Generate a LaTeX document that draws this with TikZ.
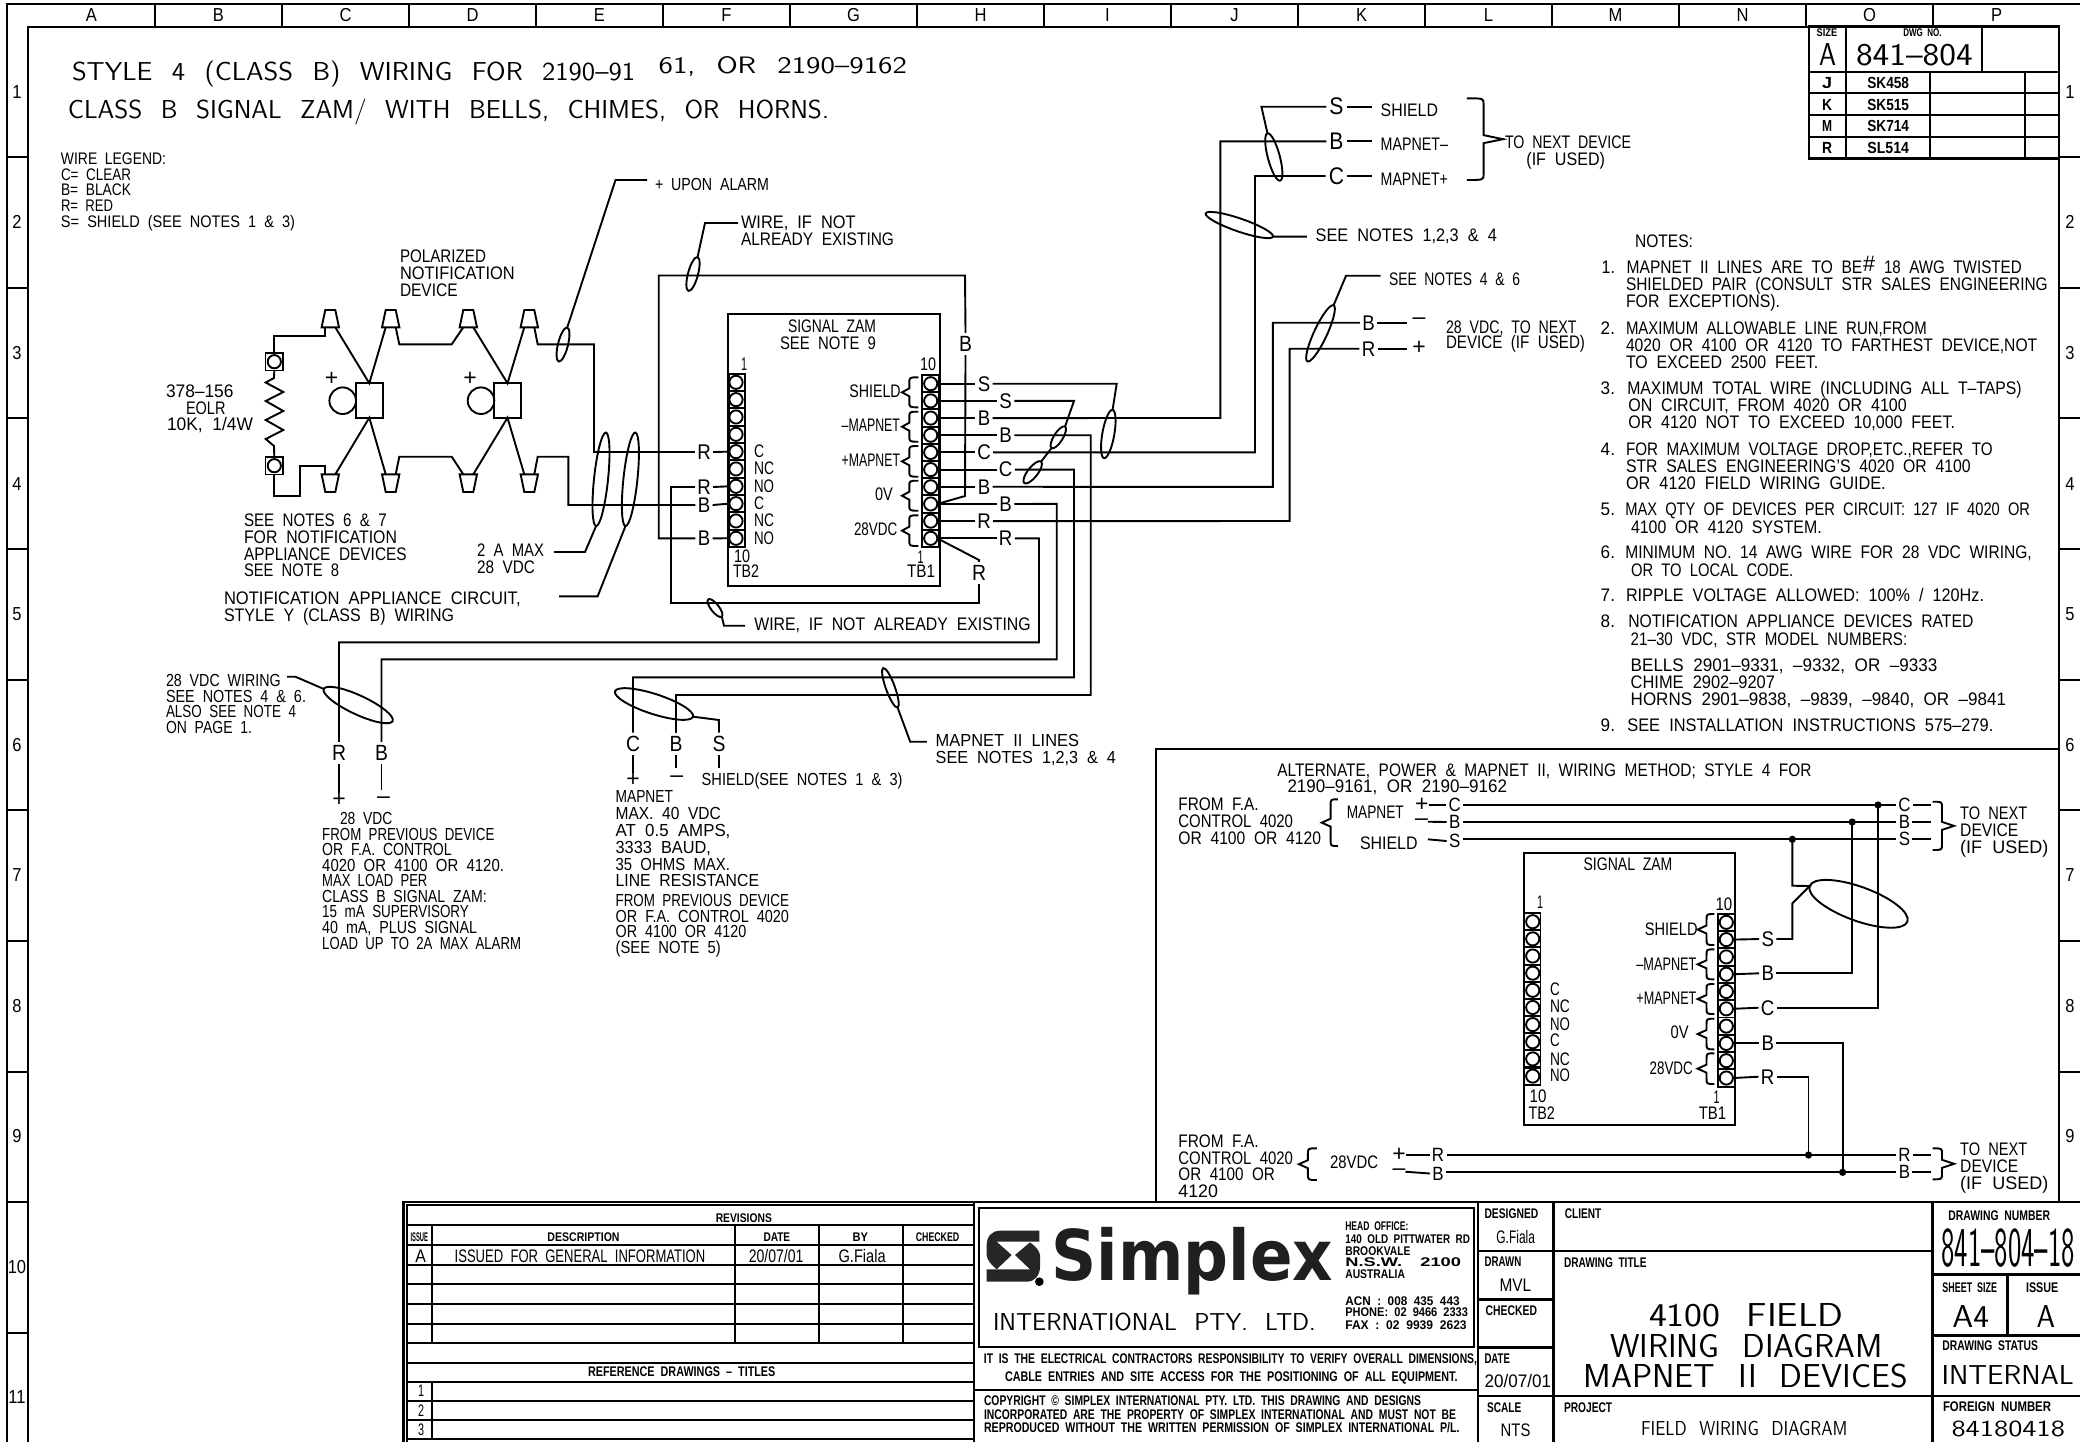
\documentclass[tikz,border=0pt]{standalone}
\usepackage{fontspec}
\usepackage{graphicx}
\usetikzlibrary{shapes.geometric}
\setmainfont[WordSpace=2]{Liberation Sans}
\setsansfont[WordSpace=2.2]{Latin Modern Sans}
\newcommand{\lightf}{\sffamily}
\newfontfamily\logofam{DejaVu Sans}
\newcounter{tc}
% T: x, baseline y, cap height, right x, text  (pixels)
\newcommand{\T}[5]{\stepcounter{tc}\pgfmathsetmacro{\tfs}{#3*0.5/0.716}\pgfmathsetmacro{\twd}{(#4-#1)*0.5}%
 \node[lab,anchor=base west] (t\arabic{tc}) at (#1,#2) {\fontsize{\tfs}{\tfs}\selectfont\resizebox{\twd pt}{\height}{#5}};}
\newcommand{\TB}[5]{\stepcounter{tc}\pgfmathsetmacro{\tfs}{#3*0.5/0.716}\pgfmathsetmacro{\twd}{(#4-#1)*0.5}%
 \node[lab,anchor=base west] (t\arabic{tc}) at (#1,#2) {\fontsize{\tfs}{\tfs}\bfseries\selectfont\resizebox{\twd pt}{\height}{#5}};}
\newcommand{\TL}[5]{\stepcounter{tc}\pgfmathsetmacro{\tfs}{#3*0.5/0.694}\pgfmathsetmacro{\twd}{(#4-#1)*0.5}%
 \node[lab,anchor=base west] (t\arabic{tc}) at (#1,#2) {\fontsize{\tfs}{\tfs}\lightf\selectfont\resizebox{\twd pt}{\height}{#5}};}
% E: name, cx, cy, half length, half width, angle
\newcommand{\E}[6]{\node[ell,minimum width=#4 pt,minimum height=#5 pt,rotate=#6] (#1) at (#2,#3) {};}
% BR: end x, spine x, tip x, top y, bottom y
\newcommand{\BR}[5]{\pgfmathsetmacro{\bm}{(#4+#5)/2}\pgfmathsetmacro{\bt}{#4+6}\pgfmathsetmacro{\bb}{#5-6}\pgfmathsetmacro{\bu}{\bm-4}\pgfmathsetmacro{\bd}{\bm+4}%
 \draw (#1,#4) .. controls (#2,#4) and (#2,#4) .. (#2,\bt) -- (#2,\bu) -- (#3,\bm) -- (#2,\bd) -- (#2,\bb) .. controls (#2,#5) and (#2,#5) .. (#1,#5);}
% Strip: prefix, rect centre x, circle x, first y, step
\newcommand{\Strip}[5]{\foreach \i in {1,...,10}{\pgfmathsetmacro{\yy}{#4+#5*(\i-1)}%
 \node[cell] (#1c\i) at (#2,\yy) {};\node[term] (#1\i) at (#3,\yy) {};}}
\newcommand{\Wch}[1]{\scalebox{.88}[1]{#1}}
\tikzset{
 lab/.style={inner sep=0pt,outer sep=0pt},
 ell/.style={draw,ellipse,inner sep=0pt,outer sep=0pt},
 cell/.style={draw,rectangle,minimum width=8.4pt,minimum height=8.65pt,inner sep=0pt,outer sep=0pt},
 term/.style={draw,circle,minimum size=6.6pt,inner sep=0pt,outer sep=0pt},
 wl/.style={inner ysep=0pt,inner xsep=1.2pt,outer sep=0pt,font=\fontsize{10.6}{10.6}\selectfont},
 wlv/.style={inner ysep=1.8pt,inner xsep=1.2pt,outer sep=0pt,font=\fontsize{11}{11}\selectfont},
 wls/.style={inner ysep=0pt,inner xsep=1.2pt,outer sep=0pt,font=\fontsize{9.6}{9.6}\selectfont},
 wlb/.style={inner ysep=0pt,inner xsep=1.6pt,outer sep=0pt,font=\fontsize{12}{12}\selectfont},
 pm/.style={inner sep=0pt,outer sep=0pt,font=\fontsize{11.5}{11.5}\selectfont},
 dotn/.style={draw,fill=black,circle,minimum size=2.6pt,inner sep=0pt,outer sep=0pt},
 boxn/.style={draw,rectangle,inner sep=0pt,outer sep=0pt},
 frameline/.style={line width=1.3pt},
 rev/.style={line width=.95pt},
 hd/.style={inner sep=0pt,outer sep=0pt,font=\fontsize{9.4}{9.4}\selectfont}
}
\begin{document}
\begin{tikzpicture}[x=0.5pt,y=-0.5pt,line width=.95pt]
\useasboundingbox (0,0) rectangle (2080,1442);
\fill[white] (0,0) rectangle (2080,1442);
% ---------- sheet frame
\draw[frameline] (2080,4) -- (7,4) -- (7,1442);
\draw[frameline] (28,1442) -- (28,27) -- (2059,27) -- (2059,1202);
\foreach \x in {155,282,409,536,663,790,917,1044,1171,1298,1425,1552,1679,1806,1933} \draw (\x,4) -- (\x,27);
\foreach \y in {157,288,418,549,680,810,941,1072,1202,1333} \draw (7,\y) -- (28,\y);
\foreach \y in {157,288,418,549,680,810,941,1072} \draw (2059,\y) -- (2080,\y);
\foreach \l/\x in {A/91.5,B/218.5,C/345.5,D/472.5,E/599.5,F/726.5,G/853.5,H/980.5,I/1107.5,J/1234.5,K/1361.5,L/1488.5,M/1615.5,N/1742.5,O/1869.5,P/1996.5}
 \node[hd] (col\l) at (\x,15.5) {\Wch{\l}};
\foreach \n/\y in {1/92,2/222,3/353,4/484,5/614,6/745,7/875,8/1006,9/1136,10/1267,11/1397}
 \node[hd] (rowl\n) at (17,\y) {\Wch{\n}};
\foreach \n/\y in {1/92,2/222,3/353,4/484,5/614,6/745,7/875,8/1006,9/1136}
 \node[hd] (rowr\n) at (2070,\y) {\Wch{\n}};
% ---------- headings
\TL{72}{80}{18}{635}{STYLE 4 (CLASS B) WIRING FOR 2190–91}
\TL{658.6}{73.5}{16.5}{907}{61, OR 2190–9162}
\TL{68}{118}{18}{829}{CLASS B SIGNAL ZAM/ WITH BELLS, CHIMES, OR HORNS.}
\T{61}{164}{12}{166}{WIRE LEGEND:}
\T{61}{180}{12}{131}{C= CLEAR}
\T{61}{195.6}{12}{131}{B= BLACK}
\T{61}{211}{12}{113}{R= RED}
\T{61}{227}{12}{295}{S= SHIELD (SEE NOTES 1 \& 3)}
\T{400}{262.6}{13}{486}{POLARIZED}
\T{400}{279}{13}{514.7}{NOTIFICATION}
\T{400}{296.6}{13}{457.6}{DEVICE}
\T{166}{397}{13}{233.5}{378–156}
\T{186}{414}{13}{225.5}{EOLR}
\T{167}{430.7}{13}{253}{10K, 1/4W}
\T{244}{526.7}{13}{386.7}{SEE NOTES 6 \& 7}
\T{244}{543.3}{13}{397}{FOR NOTIFICATION}
\T{244}{560}{13}{406.7}{APPLIANCE DEVICES}
\T{244}{576.7}{13}{339}{SEE NOTE 8}
\T{477}{556.7}{13}{544}{2 A MAX}
\T{477}{573.7}{13}{535}{28 VDC}
\T{224}{604.7}{13}{520.6}{NOTIFICATION APPLIANCE CIRCUIT,}
\T{224}{621}{13}{454}{STYLE Y (CLASS B) WIRING}
\T{655}{190}{12.5}{769}{+ UPON ALARM}
\T{741}{228.6}{13}{855.6}{WIRE, IF NOT}
\T{741}{245.6}{13}{894}{ALREADY EXISTING}
% ---------- notification devices
\foreach \n/\c in {1/330.3,2/390.7,3/468.3,4/529.3}{
 \draw (\c-5,310) -- (\c+5,310) -- (\c+8.7,327.3) -- (\c-8.7,327.3) -- cycle;
 \coordinate (u\n l) at (\c-5,327.3); \coordinate (u\n r) at (\c+5,327.3);
 \draw (\c-8.7,474.3) -- (\c+8.7,474.3) -- (\c+5,492) -- (\c-5,492) -- cycle;
 \coordinate (v\n l) at (\c-5,474.3); \coordinate (v\n r) at (\c+5,474.3);
}
\node[boxn,minimum width=13.3pt,minimum height=17.2pt] (sq1) at (369.3,400.5) {};
\node[boxn,minimum width=13.2pt,minimum height=17.2pt] (sq2) at (507.5,400.5) {};
\node[draw,circle,minimum size=13.3pt,inner sep=0pt,outer sep=0pt] (cr1) at (342.7,400.7) {};
\node[draw,circle,minimum size=13.3pt,inner sep=0pt,outer sep=0pt] (cr2) at (481,400.7) {};
\node[pm] (plus1) at (331.7,378.7) {+};
\node[pm] (plus2) at (470,378.7) {+};
\node[boxn,minimum size=8.8pt] (eolt) at (274.3,361.7) {};
\node[term] (eoltc) at (274.3,361.7) {};
\node[boxn,minimum size=8.8pt] (eolb) at (274.3,465.7) {};
\node[term] (eolbc) at (274.3,465.7) {};
\draw (eolt.south) -- (274,378) -- (265.7,382.5) -- (283.3,392) -- (265.7,401) -- (283.3,411) -- (265.7,420) -- (283.3,430) -- (265.7,439) -- (274,446) -- (eolb.north);
\draw (eolt.north) -- (274.3,336) -- (u1l |- 0,336) -- (u1l);
\draw (eolb.south) -- (274.3,496) -- (300,496) -- (300,465.7) -- (v1l |- 0,465.7) -- (v1l);
\draw (u1r) -- (sq1.north) -- (u2l);
\draw (u2r) -- (399.3,344.3) -- (451.7,344.3) -- (u3l);
\draw (u3r) -- (sq2.north) -- (u4l);
\draw (v1r) -- (sq1.south) -- (v2l);
\draw (v2r) -- (399.3,456.7) -- (451.7,456.7) -- (v3l);
\draw (v3r) -- (sq2.south) -- (v4l);
% ---------- signal zam
\node[boxn,minimum width=106pt,minimum height=136pt] (zam) at (833.7,450) {};
\T{788}{332}{13}{876}{SIGNAL ZAM}
\T{780}{349}{13}{876}{SEE NOTE 9}
\Strip{a}{737}{736}{382.3}{17.33}
\Strip{b}{930.7}{930.7}{383.7}{17.18}
\T{741}{370.7}{13}{747}{1}
\T{920}{370.7}{13}{936}{10}
\T{734}{562.7}{13}{750}{10}
\T{733}{577}{13}{759}{TB2}
\T{917.7}{563}{13}{923.7}{1}
\T{907}{577}{13}{935}{TB1}
\foreach \s/\r/\y in {C/764/457,NC/774/474,NO/774/492,C/764/509,NC/774/526.7,NO/774/544}{\T{754}{\y}{13}{\r}{\s}}
\BR{918.3}{909.3}{902}{377.3}{407.3}
\BR{918.3}{909.3}{902}{411.7}{441.7}
\BR{918.3}{909.3}{902}{446}{476.7}
\BR{918.3}{909.3}{902}{480.7}{510.7}
\BR{918.3}{909.3}{902}{515.3}{546}
\T{849.3}{397}{13}{900.7}{SHIELD}
\T{841.7}{431.7}{13}{900}{–MAPNET}
\T{841.7}{466}{13}{900}{+MAPNET}
\T{875}{500.7}{13}{892.7}{0V}
\T{854}{535.7}{13}{897.3}{28VDC}
% wire labels at TB2
\node[wl] (rla) at (704,452) {\Wch{R}};
\node[wl] (rlb) at (704,487) {\Wch{R}};
\node[wl] (bla) at (704,505) {\Wch{B}};
\node[wl] (blb) at (704,538.3) {\Wch{B}};
\draw (rla.east) -- (a5.west);
\draw (rlb.east) -- (a7.west);
\draw (bla.east) -- (a8.west);
\draw (blb.east) -- (a10.west);
\draw (u4r) -- (537.7,344.3) -- (594,344.3) -- (594,452) -- (rla.west);
\draw (v4r) -- (537.7,456.7) -- (568.3,456.7) -- (568.3,505) -- (bla.west);
% wire labels at TB1
\foreach \i/\ch/\xc in {1/S/984,2/S/1005.7,3/B/984,4/B/1005.7,5/C/984,6/C/1005.7,7/B/984,8/B/1005.7,9/R/984,10/R/1005.7}{
 \node[wl] (l\i) at (\xc,0 |- b\i) {\Wch{\ch}};
 \draw (b\i.east) -- (l\i.west);
}
\node[wlv] (wb) at (965.5,344) {\Wch{B}};
\node[wlv] (wr) at (979,573) {\Wch{R}};
\draw (b8.east) -- (965,496) -- (wb.south);
\draw (wb.north) -- (965,275.5) -- (658.7,275.5) -- (658.7,538.3) -- (blb.west);
\draw (b10.east) -- (979,560) -- (wr.north);
\draw (wr.south) -- (979,603.3) -- (671.3,603.3) -- (671.3,487) -- (rlb.west);
% ellipses and leaders, left part
\E{e1}{563}{344.5}{17.5}{5}{76}
\E{e2}{693}{274}{17.5}{5}{75}
\E{e3}{601}{479.3}{47}{7}{84}
\E{e4}{630.4}{479.3}{47}{7}{84}
\E{e14}{715}{608}{11}{4}{128}
\coordinate (ldA) at (647,180);
\coordinate (ldB) at (738,223);
\draw (ldA) -- (615.5,180) -- (e1.east);
\draw (ldB) -- (705,223) -- (e2.east);
\coordinate (ldC) at (554,552);
\coordinate (ldD) at (559,596.4);
\draw (ldC) -- (585,552) -- (e3.west);
\draw (ldD) -- (597.6,596.4) -- (e4.west);
\coordinate (ldE) at (745,625.7);
\draw (e14.west) -- (724,625.7) -- (ldE);
\T{754.3}{630}{13}{1030.7}{WIRE, IF NOT ALREADY EXISTING}
% ---------- upper right wiring
\E{e5}{1108.3}{434}{24.5}{6}{80}
\E{e6}{1058.3}{437.3}{12.7}{4.5}{58}
\E{e7}{1032.7}{472.3}{13.7}{5}{52}
\E{e8}{1273.8}{157}{24.5}{6}{105}
\E{e9}{1239.3}{225}{35.6}{6.5}{-19}
\E{e10}{1320.5}{333.3}{31}{6.5}{65}
\draw (l1.east) -- (1116.7,383.7) -- (e5.east);
\draw (l2.east) -- (1074,400.9) -- (e6.east);
\draw (e6.west) -- (e7.east);
\node[wlb] (ts) at (1336.5,106.7) {\Wch{S}};
\node[wlb] (tb) at (1336.5,141.3) {\Wch{B}};
\node[wlb] (tc) at (1336.5,176) {\Wch{C}};
\coordinate (tse) at (1371.8,106.7);
\coordinate (tbe) at (1371.8,141.3);
\coordinate (tce) at (1371.8,176);
\draw (ts.east) -- (tse);
\draw (tb.east) -- (tbe);
\draw (tc.east) -- (tce);
\draw (ts.west) -- (1261.4,106.7) -- (e8.east);
\draw (l3.east) -- (1220.4,418) -- (1220.4,141.3) -- (tb.west);
\draw (l5.east) -- (1255,452.4) -- (1255,176) -- (tc.west);
\T{1380.7}{116}{13}{1438}{SHIELD}
\T{1380.7}{150.7}{13}{1447.9}{MAPNET–}
\T{1380.7}{185}{13}{1447.9}{MAPNET+}
\BR{1466.8}{1483.6}{1503}{98.3}{180}
\T{1505}{148}{13}{1631}{TO NEXT DEVICE}
\T{1526.4}{165}{13}{1605}{(IF USED)}
\coordinate (ldF) at (1306.8,236.6);
\draw (e9.east) -- (ldF);
\T{1315.7}{241.7}{13}{1496.8}{SEE NOTES 1,2,3 \& 4}
\coordinate (ldG) at (1380.7,275.7);
\draw (ldG) -- (1346,275.7) -- (e10.east);
\T{1389}{285.3}{13}{1520}{SEE NOTES 4 \& 6}
\node[wl] (pb) at (1368.5,322.7) {\Wch{B}};
\node[wl] (pr) at (1368.5,348.7) {\Wch{R}};
\node[pm] (pmin) at (1419,321) {–};
\node[pm] (pplu) at (1419,347.5) {+};
\draw (pb.east) -- (1406.8,322.7);
\draw (pr.east) -- (1406.8,348.7);
\draw (l7.east) -- (1272.9,486.8) -- (1272.9,322.7) -- (pb.west);
\draw (l9.east) -- (1289.6,521) -- (1289.6,348.7) -- (pr.west);
\T{1446}{333.3}{13}{1576.4}{28 VDC, TO NEXT}
\T{1446}{348}{13}{1585}{DEVICE (IF USED)}
% ---------- lower field wiring
\node[wlv] (nR) at (339,753) {\Wch{R}};
\node[wlv] (nB) at (381.5,753) {\Wch{B}};
\node[wlv] (mC) at (633,744) {\Wch{C}};
\node[wlv] (mB) at (676,744) {\Wch{B}};
\node[wlv] (mS) at (719,744) {\Wch{S}};
\draw (l10.east) -- (1039,538.3) -- (1039,642.3) -- (339,642.3) -- (nR.north);
\draw (l8.east) -- (1056.7,503.9) -- (1056.7,659.3) -- (381.5,659.3) -- (nB.north);
\draw (l6.east) -- (1074,469.6) -- (1074,677.3) -- (633,677.3) -- (mC.north);
\draw (l4.east) -- (1090.7,435.2) -- (1090.7,695) -- (676,695) -- (mB.north);
\E{e11}{358.2}{705}{38}{9.5}{-25}
\E{e12}{654}{704}{41}{10}{-18}
\E{e13}{890.4}{687.8}{21}{4.5}{110}
\coordinate (ldH) at (287,676.7);
\draw (ldH) -- (295.4,676.7) -- (e11.west);
\draw (e12.east) -- (718.9,720) -- (mS.north);
\coordinate (ldI) at (926.8,741.7);
\draw (e13.west) -- (910.2,741.7) -- (ldI);
\node[pm] (nplus) at (339,800) {+};
\node[pm] (nminus) at (383.4,800) {–};
\node[pm] (mplus) at (633,780) {+};
\node[pm] (mminus) at (676.8,779) {–};
\draw (nR.south) -- (nplus.north);
\draw (nB.south) -- (381.5,790);
\draw (mC.south) -- (mplus.north);
\draw (mB.south) -- (676,768.3);
\draw (mS.south) -- (719,768.3);
\T{166}{686}{12.5}{280.7}{28 VDC WIRING}
\T{166}{702}{12.5}{306}{SEE NOTES 4 \& 6.}
\T{166}{717.3}{12.5}{296}{ALSO SEE NOTE 4}
\T{166}{733.3}{12.5}{252}{ON PAGE 1.}
\T{340}{824}{12.5}{392.3}{28 VDC}
\T{322.2}{840}{12.5}{494.4}{FROM PREVIOUS DEVICE}
\T{322.2}{855.3}{12.5}{451.7}{OR F.A. CONTROL}
\T{322.2}{871}{12.5}{504}{4020 OR 4100 OR 4120.}
\T{322.2}{886.7}{12.5}{427.4}{MAX LOAD PER}
\T{322.2}{902.3}{12.5}{486.7}{CLASS B SIGNAL ZAM:}
\T{322.2}{917.7}{12.5}{468.9}{15 mA SUPERVISORY}
\T{322.2}{933.3}{12.5}{477}{40 mA, PLUS SIGNAL}
\T{322.2}{949}{12.5}{521}{LOAD UP TO 2A MAX ALARM}
\T{701.7}{785}{12.5}{902.5}{SHIELD(SEE NOTES 1 \& 3)}
\T{615.6}{802.7}{12.5}{673}{MAPNET}
\T{615.6}{819.3}{12.5}{720.8}{MAX. 40 VDC}
\T{615.6}{836}{12.5}{730.4}{AT 0.5 AMPS,}
\T{615.6}{853.3}{12.5}{711}{3333 BAUD,}
\T{615.6}{870}{12.5}{730}{35 OHMS MAX.}
\T{615.6}{886.7}{12.5}{759}{LINE RESISTANCE}
\T{615.6}{906.7}{12.5}{789}{FROM PREVIOUS DEVICE}
\T{615.6}{922.3}{12.5}{789}{OR F.A. CONTROL 4020}
\T{615.6}{937.7}{12.5}{746.3}{OR 4100 OR 4120}
\T{615.6}{953.3}{12.5}{720.8}{(SEE NOTE 5)}
\T{935.7}{746.7}{12.5}{1079}{MAPNET II LINES}
\T{935.7}{763.3}{12.5}{1116}{SEE NOTES 1,2,3 \& 4}
% ---------- notes
\T{1635}{247.3}{13}{1693}{NOTES:}
\T{1601.7}{273.3}{13}{1615}{1.}
\T{1626.7}{273.3}{13}{1862.3}{MAPNET II LINES ARE TO BE}
\T{1863}{271.7}{16}{1875}{\#}
\T{1884}{273.3}{13}{2021.7}{18 AWG TWISTED}
\T{1626}{290.7}{13}{2047.7}{SHIELDED PAIR (CONSULT STR SALES ENGINEERING}
\T{1626}{307.7}{13}{1780}{FOR EXCEPTIONS).}
\T{1600.7}{334}{13}{1615}{2.}
\T{1626}{334}{13}{1926.7}{MAXIMUM ALLOWABLE LINE RUN,FROM}
\T{1626}{351.3}{13}{2037.3}{4020 OR 4100 OR 4120 TO FARTHEST DEVICE,NOT}
\T{1626}{368.3}{13}{1818.3}{TO EXCEED 2500 FEET.}
\T{1600.7}{394.3}{13}{1615}{3.}
\T{1627.3}{394.3}{13}{2021.7}{MAXIMUM TOTAL WIRE (INCLUDING ALL T–TAPS)}
\T{1628.3}{411.7}{13}{1906.7}{ON CIRCUIT, FROM 4020 OR 4100}
\T{1628.3}{428.7}{13}{1955}{OR 4120 NOT TO EXCEED 10,000 FEET.}
\T{1600.7}{455}{13}{1615}{4.}
\T{1626}{455}{13}{1992.7}{FOR MAXIMUM VOLTAGE DROP,ETC.,REFER TO}
\T{1626}{472.3}{13}{1970.7}{STR SALES ENGINEERING'S 4020 OR 4100}
\T{1626}{489.3}{13}{1885.7}{OR 4120 FIELD WIRING GUIDE.}
\T{1600.7}{515}{13}{1615}{5.}
\T{1625.3}{515}{13}{2030}{MAX QTY OF DEVICES PER CIRCUIT: 127 IF 4020 OR}
\T{1631}{533.3}{13}{1821.7}{4100 OR 4120 SYSTEM.}
\T{1600.7}{558.3}{13}{1615}{6.}
\T{1625.3}{558.3}{13}{2031.7}{MINIMUM NO. 14 AWG WIRE FOR 28 VDC WIRING,}
\T{1631}{576.7}{13}{1793.3}{OR TO LOCAL CODE.}
\T{1600.7}{601.7}{13}{1615}{7.}
\T{1626}{601.7}{13}{1984}{RIPPLE VOLTAGE ALLOWED: 100\% / 120Hz.}
\T{1600.7}{627.3}{13}{1615}{8.}
\T{1628.3}{627.3}{13}{1973.3}{NOTIFICATION APPLIANCE DEVICES RATED}
\T{1630.7}{645.3}{13}{1907.3}{21–30 VDC, STR MODEL NUMBERS:}
\T{1630.7}{671}{13}{1937.3}{BELLS 2901–9331, –9332, OR –9333}
\T{1630.7}{688.3}{13}{1775}{CHIME 2902–9207}
\T{1630.7}{705}{13}{2006}{HORNS 2901–9838, –9839, –9840, OR –9841}
\T{1600.7}{731}{13}{1615}{9.}
\T{1627.3}{731}{13}{1993.3}{SEE INSTALLATION INSTRUCTIONS 575–279.}
% ---------- alternate panel
\draw[frameline] (1156,1202) -- (1156,749) -- (2059,749);
\T{1277.3}{776}{13}{1811.5}{ALTERNATE, POWER \& MAPNET II, WIRING METHOD; STYLE 4 FOR}
\T{1287.5}{792.3}{13}{1507}{2190–9161, OR 2190–9162}
\T{1178.4}{810.7}{13}{1258.7}{FROM F.A.}
\T{1178.4}{827.3}{13}{1293}{CONTROL 4020}
\T{1178.4}{844}{13}{1321}{OR 4100 OR 4120}
\BR{1337.8}{1330.6}{1321.7}{799.3}{846}
\T{1346.8}{818.7}{13}{1403.8}{MAPNET}
\T{1360}{849}{13}{1417.6}{SHIELD}
\node[pm] (apl) at (1421.8,805) {+};
\node[pm] (amn) at (1421.5,821.7) {–};
\coordinate (asb) at (1427.8,839.3);
\node[wls] (aC) at (1454.7,805) {\Wch{C}};
\node[wls] (aB) at (1454.7,822) {\Wch{B}};
\node[wls] (aS) at (1454.7,841) {\Wch{S}};
\draw (apl.east) -- (aC.west);
\draw (amn.east) -- (aB.west);
\draw (asb) -- (aS.west);
\node[wls] (xC) at (1904.4,805) {\Wch{C}};
\node[wls] (xB) at (1904.4,822) {\Wch{B}};
\node[wls] (xS) at (1904.4,839.3) {\Wch{S}};
\draw (aC.east) -- (xC.west);
\draw (aB.east) -- (xB.west);
\draw (aS.east |- xS) -- (xS.west);
\foreach \n in {C,B,S} {\coordinate (e\n x) at (1931.4,0 |- x\n); \draw (x\n.east) -- (e\n x);}
\BR{1932.6}{1942}{1954}{801.7}{850}
\T{1960.2}{819}{13}{2027.3}{TO NEXT}
\T{1960.2}{836}{13}{2018.3}{DEVICE}
\T{1960.2}{853.3}{13}{2048.3}{(IF USED)}
\node[dotn] (dC) at (1878,805) {};
\node[dotn] (dB) at (1852.2,822) {};
\node[dotn] (dS) at (1792.3,839.3) {};
\node[boxn,minimum width=105.8pt,minimum height=136.2pt] (zam2) at (1629.5,988.8) {};
\T{1583.6}{870.7}{13}{1672.4}{SIGNAL ZAM}
\Strip{c}{1532.1}{1532.7}{921.7}{17.15}
\Strip{d}{1726.7}{1726.3}{922.3}{17.3}
\T{1537}{908.3}{13}{1543}{1}
\T{1715.5}{910}{13}{1732.3}{10}
\foreach \s/\r/\y in {C/1559.7/995.7,NC/1569.9/1012.7,NO/1569.9/1030,C/1559.7/1046.7,NC/1569.9/1065,NO/1569.9/1081.7}{\T{1550}{\y}{13}{\r}{\s}}
\T{1529.7}{1102.7}{13}{1546.5}{10}
\T{1528.5}{1119.3}{13}{1554.9}{TB2}
\T{1713.7}{1103.3}{13}{1719.7}{1}
\T{1698.8}{1119.3}{13}{1726.3}{TB1}
\BR{1714.3}{1706.5}{1697.6}{914}{945}
\BR{1714.3}{1706.5}{1697.6}{949.3}{979.3}
\BR{1714.3}{1706.5}{1697.6}{984}{1014}
\BR{1714.3}{1706.5}{1697.6}{1018.7}{1049.3}
\BR{1714.3}{1706.5}{1697.6}{1053.3}{1084}
\T{1644.8}{935.7}{13}{1697.6}{SHIELD}
\T{1636.4}{970}{13}{1696.4}{–MAPNET}
\T{1636.4}{1004.3}{13}{1696.4}{+MAPNET}
\T{1670.6}{1038.3}{13}{1688.6}{0V}
\T{1649.6}{1074}{13}{1692.8}{28VDC}
\node[wl] (zS) at (1767.7,939) {\Wch{S}};
\node[wl] (zB) at (1767.7,973.3) {\Wch{B}};
\node[wl] (zC) at (1767.7,1007.7) {\Wch{C}};
\node[wl] (zG) at (1767.7,1042.7) {\Wch{B}};
\node[wl] (zR) at (1767.7,1076.7) {\Wch{R}};
\draw (d2.east) -- (zS.west);
\draw (d4.east) -- (zB.west);
\draw (d6.east) -- (zC.west);
\draw (d7.east |- zG) -- (zG.west);
\draw (d10.east) -- (zR.west);
\E{e15}{1858.5}{903.8}{52}{17}{-20}
\draw (dS) -- (1792.3,885.7) -- (e15.west) -- (1792.3,903.3) -- (1792.3,939) -- (zS.east);
\draw (zB.east) -- (1852.2,973.3) -- (dB);
\draw (zC.east) -- (1878,1007.7) -- (dC);
\T{1178.4}{1147.3}{13}{1258.7}{FROM F.A.}
\T{1178.4}{1164}{13}{1293}{CONTROL 4020}
\T{1178.4}{1180.7}{13}{1275}{OR 4100 OR}
\T{1178.4}{1197.3}{13}{1218}{4120}
\BR{1316.9}{1307.9}{1298.9}{1148.3}{1180}
\T{1330}{1168.3}{13}{1378}{28VDC}
\node[pm] (bpl) at (1399,1155) {+};
\node[pm] (bmn) at (1399,1171.7) {–};
\node[wls] (bR) at (1438,1155) {\Wch{R}};
\node[wls] (bB) at (1438,1173.5) {\Wch{B}};
\draw (bpl.east) -- (bR.west);
\draw (bmn.east) -- (bB.west);
\node[wls] (yR) at (1904.4,1155) {\Wch{R}};
\node[wls] (yB) at (1904.4,1172.3) {\Wch{B}};
\draw (bR.east) -- (yR.west);
\draw (bB.east |- yB) -- (yB.west);
\coordinate (eRy) at (1931.4,1155);
\coordinate (eBy) at (1931.4,1172.3);
\draw (yR.east) -- (eRy);
\draw (yB.east) -- (eBy);
\BR{1932.6}{1942}{1954}{1148.3}{1179.3}
\T{1960.2}{1155.7}{13}{2027.3}{TO NEXT}
\T{1960.2}{1172.3}{13}{2018.3}{DEVICE}
\T{1960.2}{1189}{13}{2048.3}{(IF USED)}
\node[dotn] (dR) at (1808.5,1155) {};
\node[dotn] (dG) at (1842.6,1172.3) {};
\draw (zG.east) -- (1842.6,1042.7) -- (dG);
\draw (zR.east) -- (1808.5,1076.7) -- (dR);
% ---------- top right table
\draw[frameline] (1809,26.7) rectangle (2059,158.3);
\draw[rev] (1845.7,26.7) -- (1845.7,158.3);
\draw[rev] (1981.7,26.7) -- (1981.7,71.7);
\foreach \y in {71.7,93.3,115,136.7} \draw[rev] (1809,\y) -- (2059,\y);
\draw[rev] (1930,71.7) -- (1930,158.3);
\draw[rev] (2025,71.7) -- (2025,158.3);
\TB{1816.7}{36.7}{8}{1837.3}{SIZE}
\TB{1903.3}{36}{8}{1941.7}{DWG NO.}
\TL{1819}{65}{22}{1836}{A}
\TL{1856}{65}{22}{1972.7}{841–804}
\foreach \s/\k/\y in {J/SK458/88.3,K/SK515/110,M/SK714/131.7,R/SL514/153.3}{
 \TB{1822}{\y}{11.5}{1832}{\s}
 \TB{1867.3}{\y}{11.5}{1909}{\k}
}
% ---------- revisions block
\draw[frameline] (2080,1202) -- (403.5,1202) -- (403.5,1442);
\draw[rev] (974,1205) -- (407,1205) -- (407,1442);
\draw[frameline] (974,1202) -- (974,1442);
\foreach \y in {1225,1245,1265,1284.3,1304.3,1324,1343.3,1362.7,1381.7,1401,1420,1439.3} \draw[rev] (407,\y) -- (974,\y);
\foreach \x in {431.6,735.4,819,903} \draw[rev] (\x,1225) -- (\x,1343.3);
\draw[rev] (431.6,1381.7) -- (431.6,1439.3);
\TB{715.8}{1222.7}{9}{771.9}{REVISIONS}
\TB{410.5}{1241.7}{9}{428}{ISSUE}
\TB{547.4}{1241.7}{9}{619.6}{DESCRIPTION}
\TB{763.5}{1241.7}{9}{790.2}{DATE}
\TB{852.6}{1241.7}{9}{868}{BY}
\TB{915.8}{1241.7}{9}{959.3}{CHECKED}
\T{415.4}{1262.7}{13}{426}{A}
\T{454.7}{1262.7}{13}{705.3}{ISSUED FOR GENERAL INFORMATION}
\T{748.8}{1262.7}{13}{803.5}{20/07/01}
\T{838.6}{1262.7}{13}{885.6}{G.Fiala}
\TB{588}{1376.7}{10}{775.4}{REFERENCE DRAWINGS – TITLES}
\T{418}{1396.7}{12}{424}{1}
\T{418}{1416}{12}{424}{2}
\T{418}{1435.7}{12}{424}{3}
% ---------- logo block
\node[boxn,line width=1.1pt,minimum width=247.4pt,minimum height=69.2pt] (logobox) at (1226.3,1277.5) {};
\begin{scope}[shift={(980,1210)},x=0.16667pt,y=-0.16667pt]
 \fill[black!85] (178,62) -- (60,62) .. controls (35,62) and (20,80) .. (20,105) -- (20,135) .. controls (20,150) and (35,165) .. (50,178) -- (95,135) -- (50,95) -- (178,95) -- cycle;
 \fill[black!85] (20,215) -- (140,215) .. controls (165,215) and (180,195) .. (180,170) -- (180,135) .. controls (178,120) and (165,108) .. (150,97) -- (105,135) -- (150,178) -- (20,178) -- cycle;
 \fill[black] (178,215) circle (13);
\end{scope}
\node[lab,anchor=base west,text=black!88] (logoname) at (1051.7,1280.7) {\fontsize{35}{35}\logofam\bfseries\resizebox{140.8pt}{\height}{Simplex}};
\TL{993}{1330}{17}{1315.8}{INTERNATIONAL PTY. LTD.}
\TB{1345.3}{1230.7}{9}{1408.4}{HEAD OFFICE:}
\TB{1345.3}{1243.3}{9}{1470}{140 OLD PITTWATER RD}
\TB{1345.3}{1255.7}{9}{1410.5}{BROOKVALE}
\TB{1345.3}{1266.7}{9}{1461}{N.S.W.\quad 2100}
\TB{1345.3}{1278.3}{9}{1405}{AUSTRALIA}
\TB{1345.3}{1305}{9}{1459.6}{ACN : 008 435 443}
\TB{1345.3}{1316.7}{9}{1468}{PHONE: 02 9466 2333}
\TB{1345.3}{1329.3}{9}{1466.7}{FAX : 02 9939 2623}
\TB{983.9}{1363.3}{10}{1477}{IT IS THE ELECTRICAL CONTRACTORS RESPONSIBILITY TO VERIFY OVERALL DIMENSIONS,}
\TB{1005}{1381.7}{10}{1457.5}{CABLE ENTRIES AND SITE ACCESS FOR THE POSITIONING OF ALL EQUIPMENT.}
\draw[rev] (974,1390) -- (1478,1390);
\TB{984}{1405.7}{10}{1421}{COPYRIGHT © SIMPLEX INTERNATIONAL PTY. LTD. THIS DRAWING AND DESIGNS}
\TB{984}{1419}{10}{1456}{INCORPORATED ARE THE PROPERTY OF SIMPLEX INTERNATIONAL AND MUST NOT BE}
\TB{984}{1432.3}{10}{1459.6}{REPRODUCED WITHOUT THE WRITTEN PERMISSION OF SIMPLEX INTERNATIONAL P/L.}
% ---------- title block
\draw[frameline] (1478,1202) -- (1478,1442);
\draw[frameline] (1553.7,1202) -- (1553.7,1442);
\draw[frameline] (1932.5,1202) -- (1932.5,1442);
\draw[frameline] (1553.7,1251) -- (1932.5,1251);
\draw[frameline] (1478,1251) -- (1553.7,1251);
\draw[frameline] (1478,1299.3) -- (1553.7,1299.3);
\draw[frameline] (1478,1347.7) -- (1553.7,1347.7);
\draw[frameline] (1478,1396) -- (2080,1396);
\draw[frameline] (1932.5,1274.3) -- (2080,1274.3);
\draw[frameline] (1932.5,1335.7) -- (2080,1335.7);
\draw[frameline] (2007.7,1274.3) -- (2007.7,1335.7);
\TB{1484.5}{1218.3}{10}{1538.3}{DESIGNED}
\T{1496.4}{1243.3}{13}{1535}{G.Fiala}
\TB{1484.5}{1266.7}{10}{1521.3}{DRAWN}
\T{1499.5}{1291.7}{13}{1531.2}{MVL}
\TB{1485.7}{1315.7}{10}{1537}{CHECKED}
\TB{1484.5}{1363.3}{10}{1510}{DATE}
\T{1484.5}{1387.3}{13}{1551}{20/07/01}
\TB{1487}{1412.3}{10}{1521.3}{SCALE}
\T{1500.7}{1436.7}{13}{1530.4}{NTS}
\TB{1564.8}{1218.3}{10}{1601.2}{CLIENT}
\TB{1564}{1267.7}{10}{1646.6}{DRAWING TITLE}
\TL{1649}{1326.7}{23}{1843.5}{4100 FIELD}
\TL{1610}{1357.3}{23}{1883}{WIRING DIAGRAM}
\TL{1583.8}{1387.3}{23}{1908}{MAPNET II DEVICES}
\TB{1564}{1412.3}{10}{1612.2}{PROJECT}
\TL{1641}{1435}{14}{1847.5}{FIELD WIRING DIAGRAM}
\TB{1948.3}{1220}{10}{2050}{DRAWING NUMBER}
\TL{1941.6}{1266}{39}{2074.9}{841–804–18}
\TB{1942.4}{1292.3}{10}{1997}{SHEET SIZE}
\TB{2026}{1292.3}{10}{2058.3}{ISSUE}
\TL{1952.3}{1327.7}{22}{1989}{A4}
\TL{2036.5}{1327.7}{22}{2055}{A}
\TB{1942.4}{1350}{10}{2038}{DRAWING STATUS}
\TL{1941.6}{1384.3}{19}{2073.7}{INTERNAL}
\TB{1943}{1411.7}{10}{2051}{FOREIGN NUMBER}
\TL{1951.5}{1436}{16}{2065}{84180418}
\end{tikzpicture}
\end{document}
